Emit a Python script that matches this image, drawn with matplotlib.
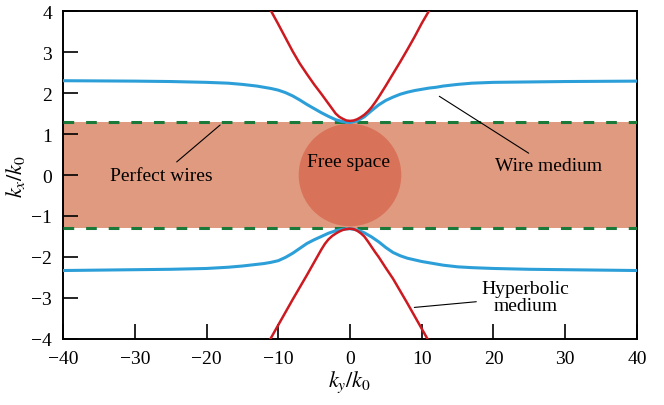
import matplotlib.pyplot as plt
from matplotlib.patches import Ellipse

plt.rcParams['font.family'] = ['Liberation Serif', 'DejaVu Serif']
plt.rcParams['mathtext.fontset'] = 'stix'

# wire medium (blue)
ky_wire = [-40, -30, -25, -20, -17, -15, -13, -12, -11, -10, -9, -8, -7, -6, -5, -4, -3, -2, -1, 0,
           1, 2, 3, 4, 5, 6, 7, 8, 9, 10, 11, 12, 13, 15, 17, 20, 25, 30, 40]
kx_wire_up = [2.30, 2.29, 2.28, 2.26, 2.24, 2.21, 2.17, 2.14, 2.11, 2.07, 2.01, 1.93, 1.83, 1.72, 1.62,
              1.52, 1.43, 1.35, 1.30, 1.28, 1.32, 1.42, 1.57, 1.71, 1.82, 1.90, 1.97, 2.02, 2.06, 2.09,
              2.12, 2.14, 2.17, 2.21, 2.24, 2.26, 2.27, 2.28, 2.29]
kx_wire_dn = [-2.33, -2.31, -2.30, -2.28, -2.25, -2.22, -2.18, -2.16, -2.13, -2.09, -2.01, -1.91, -1.79,
              -1.67, -1.58, -1.50, -1.42, -1.36, -1.32, -1.31, -1.34, -1.41, -1.51, -1.63, -1.77, -1.89,
              -1.97, -2.03, -2.07, -2.11, -2.14, -2.17, -2.20, -2.24, -2.26, -2.28, -2.30, -2.31, -2.33]

# hyperbolic medium (red)
ky_hyp = [-11.6, -11, -10, -9, -8, -7, -6, -5, -4, -3.5, -3, -2.5, -2, -1.5, -1, -0.5, 0,
          0.5, 1, 1.5, 2, 2.5, 3, 3.5, 4, 5, 6, 7, 8, 9, 10, 11, 11.6]
kx_hyp_up = [4.18, 4.00, 3.68, 3.35, 3.02, 2.72, 2.46, 2.21, 1.98, 1.86, 1.74, 1.62, 1.50, 1.42, 1.37,
             1.33, 1.32, 1.33, 1.36, 1.41, 1.47, 1.55, 1.65, 1.77, 1.90, 2.18, 2.47, 2.76, 3.06, 3.37,
             3.70, 4.00, 4.18]
kx_hyp_dn = [-4.15, -3.97, -3.66, -3.35, -3.04, -2.74, -2.44, -2.13, -1.82, -1.68, -1.57, -1.49, -1.43,
             -1.38, -1.34, -1.32, -1.31, -1.32, -1.36, -1.42, -1.50, -1.62, -1.75, -1.88, -2.00, -2.27,
             -2.53, -2.83, -3.13, -3.44, -3.75, -4.06, -4.25]

# perfect wires: flat band |kx| < kx_wires
kx_wires = 1.29

fig = plt.figure(figsize=(6.64, 4.06), dpi=100)
ax = fig.add_axes([0.0949, 0.1626, 0.8644, 0.8078])

ax.axhspan(-kx_wires, kx_wires, color='#e09a80', lw=0, zorder=1)
ax.add_patch(Ellipse((0, 0), 14.3, 2.5, color='#d8735a', lw=0, zorder=2))
for y in (kx_wires, -kx_wires):
    ax.axhline(y, color='#1a7a3a', lw=2.2, ls=(0, (3.5, 3.9)), zorder=3)

ax.plot(ky_wire, kx_wire_up, color='#2d9fd8', lw=2.2, zorder=4)
ax.plot(ky_wire, kx_wire_dn, color='#2d9fd8', lw=2.2, zorder=4)
ax.plot(ky_hyp, kx_hyp_up, color='#cc1a20', lw=1.8, zorder=5)
ax.plot(ky_hyp, kx_hyp_dn, color='#cc1a20', lw=1.8, zorder=5)

ax.set_xlim(-40, 40)
ax.set_ylim(-4, 4)
ax.set_xticks(range(-40, 41, 10))
ax.set_yticks(range(-4, 5))
ax.tick_params(direction='in', length=11, width=1.2, labelsize=14, pad=8,
               top=False, right=False)
for s in ax.spines.values():
    s.set_linewidth(1.4)

ax.set_xlabel(r'$k_y/k_0$', fontsize=16, labelpad=1)
ax.set_ylabel(r'$k_x/k_0$', fontsize=16, labelpad=3)

ax.text(-0.2, 0.33, 'Free space', fontsize=14, ha='center', va='center', zorder=6)
ax.annotate('Perfect wires', xy=(-18.1, 1.22), xytext=(-26.3, 0.0),
            fontsize=14, ha='center', va='center', zorder=6,
            arrowprops=dict(arrowstyle='-', color='black', lw=0.8,
                            shrinkA=2, shrinkB=0))
ax.annotate('Wire medium', xy=(12.45, 1.92), xytext=(27.7, 0.22),
            fontsize=14, ha='center', va='center', zorder=6,
            arrowprops=dict(arrowstyle='-', color='black', lw=0.8,
                            shrinkA=2, shrinkB=0))
ax.annotate('Hyperbolic\nmedium', xy=(8.97, -3.23), xytext=(24.5, -2.98),
            fontsize=14, ha='center', va='center', linespacing=0.95, zorder=6,
            arrowprops=dict(arrowstyle='-', color='black', lw=0.8,
                            shrinkA=2, shrinkB=0))

fig.savefig('out.png', dpi=100)
